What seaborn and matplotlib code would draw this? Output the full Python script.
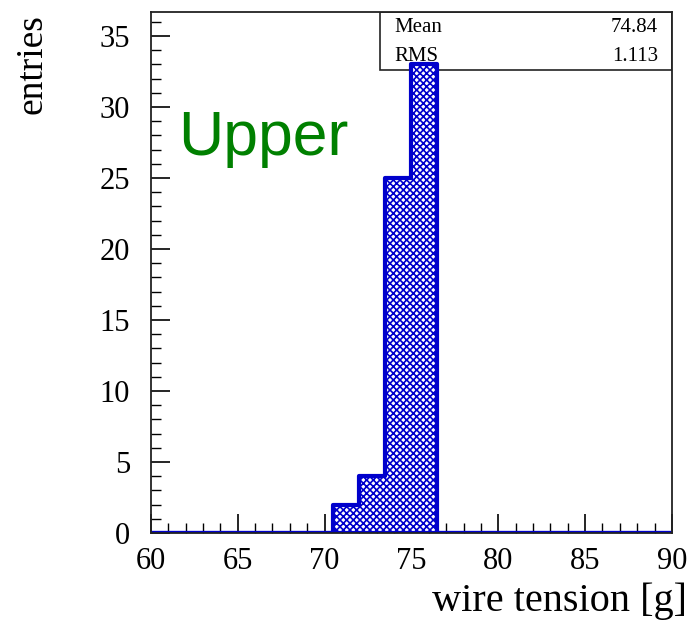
import numpy as np
import pandas as pd
import matplotlib
matplotlib.use("Agg")
import matplotlib.pyplot as plt
import seaborn as sns
from matplotlib.ticker import MultipleLocator

# Histogram data (bin width 1.5 g, range 60-90)
bin_edges = [60 + 1.5 * i for i in range(21)]
bin_counts = [0, 0, 0, 0, 0, 0, 0, 2, 4, 25, 33, 0, 0, 0, 0, 0, 0, 0, 0, 0]
stat_labels = ["Mean", "RMS"]
stat_values = ["74.84", "1.113"]

df = pd.DataFrame({
    "tension": [(bin_edges[i] + bin_edges[i + 1]) / 2 for i in range(len(bin_counts))],
    "count": bin_counts,
})

sns.set_style("white")
plt.rcParams["font.family"] = ["Liberation Serif", "DejaVu Serif"]
plt.rcParams["text.color"] = "black"
plt.rcParams["xtick.color"] = "black"
plt.rcParams["ytick.color"] = "black"
plt.rcParams["hatch.linewidth"] = 1.2
plt.rcParams["hatch.color"] = "#0000cc"

fig = plt.figure(figsize=(6.92, 6.3), dpi=100)
ax = fig.add_axes([0.218, 0.154, 0.753, 0.827])

sns.histplot(data=df, x="tension", weights="count", bins=bin_edges,
             element="step", fill=True, facecolor="white", edgecolor="#0000cc",
             linewidth=3, hatch="xxxxx", alpha=1, ax=ax)

ax.set_xlim(60, 90)
ax.set_ylim(0, 36.7)
ax.xaxis.set_major_locator(MultipleLocator(5))
ax.xaxis.set_minor_locator(MultipleLocator(1))
ax.yaxis.set_major_locator(MultipleLocator(5))
ax.yaxis.set_minor_locator(MultipleLocator(1))
ax.tick_params(which="major", direction="in", length=14, width=1.2, labelsize=22,
               top=False, right=False, bottom=True, left=True)
ax.tick_params(axis="x", which="major", pad=10)
ax.tick_params(axis="y", which="major", pad=15)
ax.tick_params(which="minor", direction="in", length=7, width=1.0,
               top=False, right=False, bottom=True, left=True)
for s in ax.spines.values():
    s.set_color("#222222")
    s.set_linewidth(1.3)

ax.set_xlabel("")
ax.set_ylabel("")
fig.text(0.993, 0.03, "wire tension [g]", ha="right", va="baseline", fontsize=29)
fig.text(0.046, 0.978, "entries", rotation=90, ha="center", va="top", fontsize=27)

# Upper label
ax.text(0.052, 0.725, "Upper", transform=ax.transAxes, color="#008000",
        fontsize=45, family="Liberation Sans", ha="left", va="baseline")

# statistics box
box = plt.Rectangle((0.44, 0.889), 0.56, 0.111, transform=ax.transAxes,
                    facecolor="white", edgecolor="#222222", linewidth=1.2, zorder=0.5)
ax.add_patch(box)
for i, (lab, val) in enumerate(zip(stat_labels, stat_values)):
    y = 0.97 - i * 0.055
    ax.text(0.468, y, lab, transform=ax.transAxes, fontsize=15, va="center", ha="left")
    ax.text(0.973, y, val, transform=ax.transAxes, fontsize=15, va="center", ha="right")

fig.savefig("out.png", dpi=100)
